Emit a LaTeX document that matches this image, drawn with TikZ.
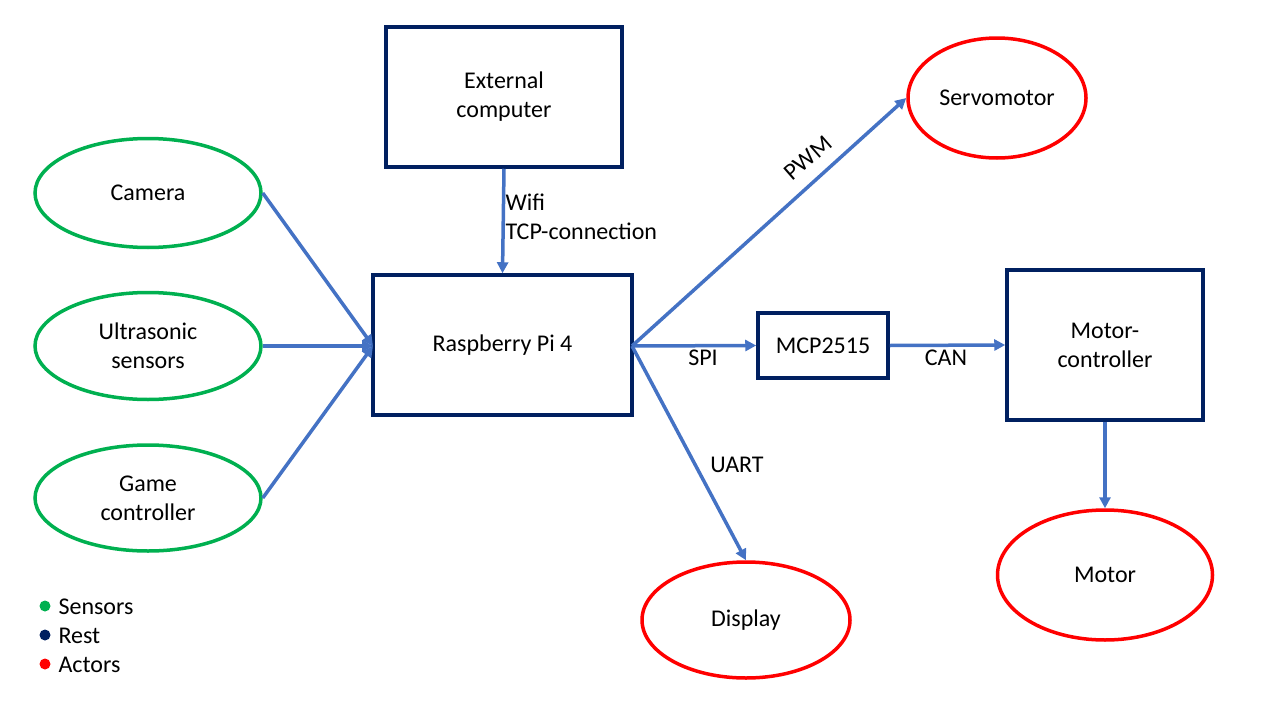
\documentclass[tikz,border=0pt]{standalone}
\usepackage{fontspec}
\setmainfont{Carlito}
\usetikzlibrary{arrows.meta,shapes.geometric}
\definecolor{navy}{HTML}{002060}
\definecolor{sgreen}{HTML}{00B050}
\definecolor{ared}{HTML}{FF0000}
\definecolor{ablue}{HTML}{4472C4}
\begin{document}
\begin{tikzpicture}[x=1pt,y=-1pt,
  every node/.style={font=\fontsize{24}{29}\selectfont},
  rest/.style={draw=navy,line width=3.5pt,align=center},
  sensor/.style={draw=sgreen,line width=3.5pt,ellipse,align=center},
  actor/.style={draw=ared,line width=3.5pt,ellipse,align=center},
  conn/.style={draw=ablue,line width=3.5pt,-{Triangle[length=11pt,width=11pt]}},
  lbl/.style={font=\fontsize{24}{29}\selectfont}]
\useasboundingbox (0,0) rectangle (1280,720);
% rest boxes
\node[rest,minimum width=236pt,minimum height=140pt] (ext) at (504,97) {External\\computer};
\node[rest,minimum width=259pt,minimum height=140pt] (rpi) at (502.5,345) {Raspberry Pi 4};
\node[rest,minimum width=130pt,minimum height=65pt] (mcp) at (823,345.5) {MCP2515};
\node[rest,minimum width=196pt,minimum height=150pt] (mc) at (1105,345) {Motor-\\controller};
% sensors
\node[sensor,minimum width=226pt,minimum height=109pt] (cam) at (148,193) {Camera};
\node[sensor,minimum width=226pt,minimum height=107pt] (us) at (148,346) {Ultrasonic\\sensors};
\node[sensor,minimum width=226pt,minimum height=106pt] (gc) at (148,498) {Game\\controller};
% actors
\node[actor,minimum width=178pt,minimum height=120pt] (servo) at (997,98) {Servomotor};
\node[actor,minimum width=208pt,minimum height=116pt] (disp) at (746,620) {Display};
\node[actor,minimum width=215pt,minimum height=130pt] (motor) at (1105,575) {Motor};
% connectors
\coordinate (rpiin) at (373,346);
\coordinate (rpiout) at (632,346);
\draw[conn] (cam.east) -- (rpiin);
\draw[conn] (us.east) -- (rpiin);
\draw[conn] (gc.east) -- (rpiin);
\draw[conn] (ext.south) -- (rpi.north);
\draw[conn] (rpiout) -- (servo.west);
\draw[conn] (rpiout) -- (mcp.west);
\draw[conn] (mcp.east) -- (mc.west);
\draw[conn] (rpiout) -- (disp.north);
\draw[conn] (mc.south) -- (motor.north);
% labels
\node[lbl,anchor=west] (wifi) at (502,202) {Wifi};
\node[lbl,anchor=west] (tcp) at (502,231) {TCP-connection};
\node[lbl,rotate=41] (pwm) at (808,158) {PWM};
\node[lbl] (spi) at (703,358) {SPI};
\node[lbl] (can) at (946,358) {CAN};
\node[lbl] (uart) at (737,465) {UART};
% legend
\fill[sgreen] (45,606) circle (5.5pt);
\fill[navy] (45,635) circle (5.5pt);
\fill[ared] (45,664) circle (5.5pt);
\node[lbl,anchor=west] (ls) at (55,607) {Sensors};
\node[lbl,anchor=west] (lr) at (55,636) {Rest};
\node[lbl,anchor=west] (la) at (55,665) {Actors};
\end{tikzpicture}
\end{document}
